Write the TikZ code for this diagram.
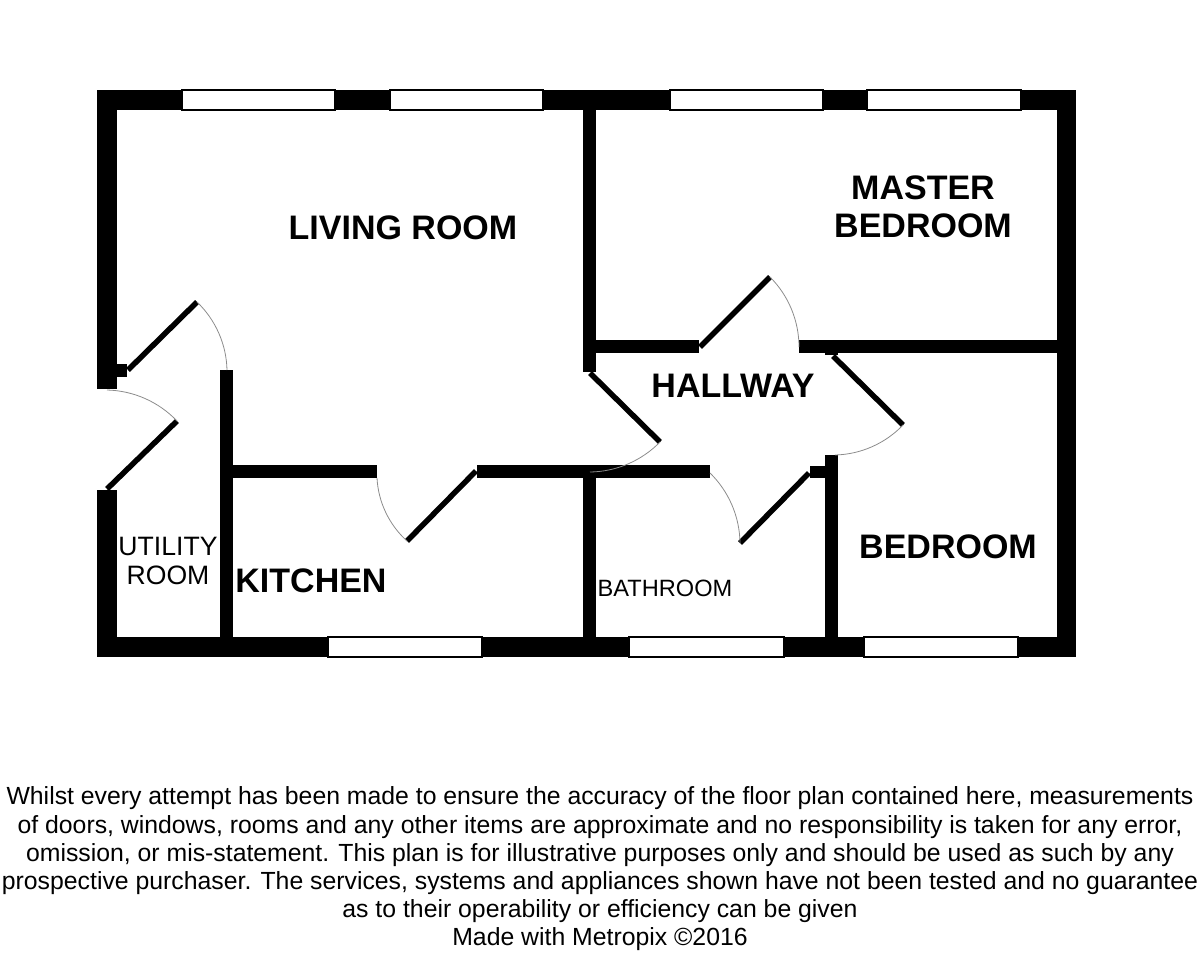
\documentclass[tikz,border=0pt]{standalone}
\usepackage{fontspec}
\setmainfont{Liberation Sans}
\tikzset{
  wall/.style={fill=black},
  glass/.style={draw=black, fill=white, line width=1.2pt},
  leaf/.style={draw=black, line width=5.5pt},
  swing/.style={draw=black!45, line width=.8pt, looseness=.885},
  bigroom/.style={font=\bfseries\fontsize{34}{38}\selectfont, align=center, inner sep=0pt},
  smallroom/.style={font=\fontsize{26.6}{29}\selectfont, align=center, inner sep=0pt},
  disclaimer/.style={font=\fontsize{24.8}{28.2}\selectfont, align=center, inner sep=0pt}
}
\begin{document}
\begin{tikzpicture}[x=1pt, y=-1pt]
    \useasboundingbox (0,0) rectangle (1200,961);
    % outer walls
    \fill[wall] (97,90) rectangle (1076,110);
    \fill[wall] (97,637) rectangle (1076,657);
    \fill[wall] (1057,90) rectangle (1076,657);
    \fill[wall] (97,90) rectangle (117,389);
    \fill[wall] (97,490) rectangle (117,657);
    \fill[wall] (117,364) rectangle (127,377);
    % inner walls
    \fill[wall] (220,370) rectangle (233,637);
    \fill[wall] (233,465) rectangle (377,478);
    \fill[wall] (477,465) rectangle (710,478);
    \fill[wall] (583,110) rectangle (596,372);
    \fill[wall] (583,478) rectangle (596,637);
    \fill[wall] (596,340) rectangle (699,353);
    \fill[wall] (799,340) rectangle (1057,353);
    \fill[wall] (825,353) rectangle (838,355);
    \fill[wall] (825,455) rectangle (838,637);
    \fill[wall] (810,466) rectangle (825,478);
    % windows
    \foreach \xa/\xb in {182/335, 390/543, 670/823, 867/1021}
      \draw[glass] (\xa,90) rectangle (\xb,110);
    \foreach \xa/\xb in {328/482, 629/784, 864/1018}
      \draw[glass] (\xa,637) rectangle (\xb,657);
    % doors: hinge, tip, end of swing
    \foreach \hx/\hy/\tx/\ty/\ex/\ey/\side in {
        128/370/197/302/227/370/left,
        107/489/177/421/107/390/right,
        476/471/407/541/377/478/left,
        590/373/660/442/590/472/left,
        700/347/770/277/799/347/left,
        833/356/903/425/835/455/left,
        809/473/740/543/710/473/right}{
      \draw[leaf] (\hx,\hy) -- (\tx,\ty);
      \draw[swing] (\tx,\ty) to[bend \side=22.5] (\ex,\ey);
    }
    % rooms
    \node[bigroom] (living) at (403,228) {LIVING ROOM};
    \node[bigroom] (master) at (923,207) {MASTER\\BEDROOM};
    \node[bigroom] (hallway) at (733,386) {HALLWAY};
    \node[bigroom] (bedroom) at (948,547) {BEDROOM};
    \node[bigroom] (kitchen) at (311,581) {KITCHEN};
    \node[smallroom] (utility) at (168,561) {UTILITY\\ROOM};
    \node[smallroom, font=\fontsize{23.6}{26}\selectfont] (bathroom) at (665,588) {BATHROOM};
    \node[disclaimer] (notice) at (600,869) {Whilst every attempt has been made to ensure the accuracy of the floor plan contained here, measurements\\
      of doors, windows, rooms and any other items are approximate and no responsibility is taken for any error,\\
      omission, or mis-statement. This plan is for illustrative purposes only and should be used as such by any\\
      prospective purchaser. The services, systems and appliances shown have not been tested and no guarantee\\
      as to their operability or efficiency can be given\\
      Made with Metropix ©2016};
\end{tikzpicture}
\end{document}
